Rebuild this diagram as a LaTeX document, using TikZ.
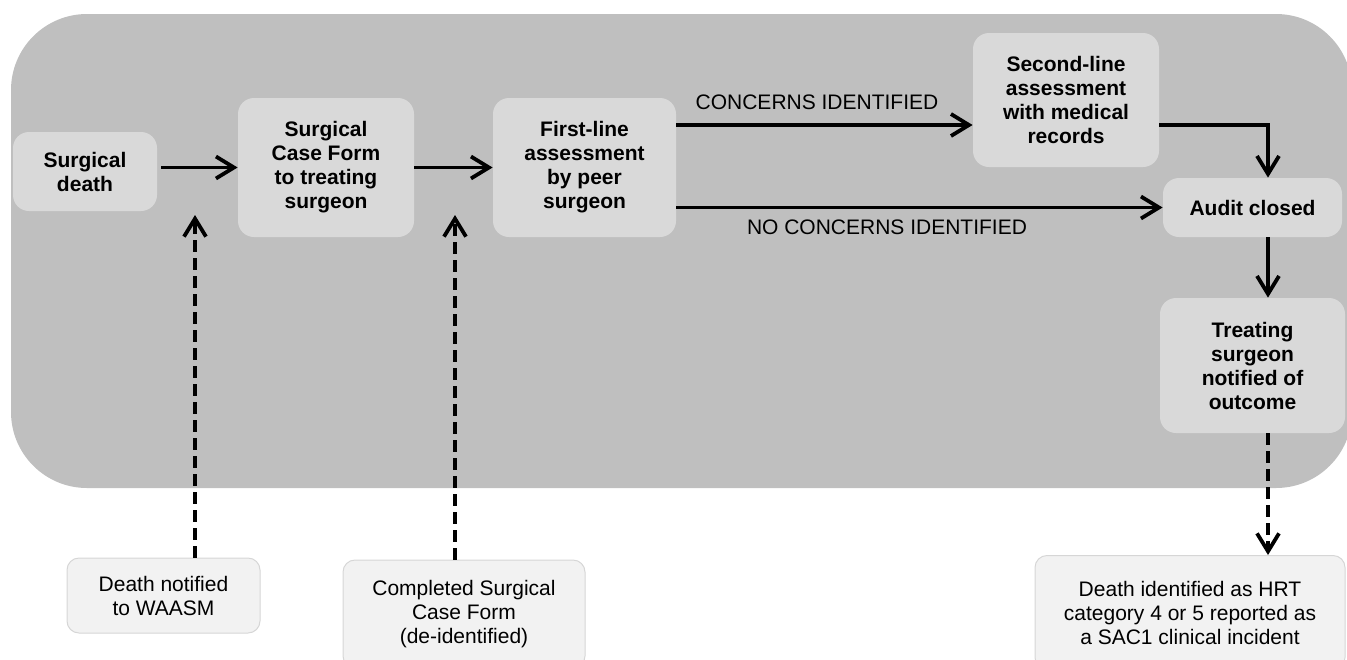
\documentclass[tikz,border=0pt]{standalone}
\usepackage{fontspec}
\setmainfont{Liberation Sans}
\usetikzlibrary{arrows.meta}
\definecolor{panel}{HTML}{BFBFBF}
\definecolor{stagefill}{HTML}{D9D9D9}
\definecolor{notefill}{HTML}{F2F2F2}
\definecolor{noteline}{HTML}{D6D6D6}
\tikzset{
  stage/.style={fill=stagefill, rounded corners=8pt, align=center, inner sep=0pt,
    font=\bfseries\fontsize{10.5}{12}\selectfont},
  note/.style={fill=notefill, draw=noteline, line width=0.5pt, rounded corners=6pt,
    align=center, inner sep=0pt, font=\fontsize{10.5}{12}\selectfont},
  tag/.style={inner sep=0pt, font=\fontsize{10.5}{12}\selectfont},
  flow/.style={line width=1.9pt, -{Straight Barb[length=9pt,width=11pt]}},
  feed/.style={flow, dash pattern=on 6pt off 3pt},
}
\begin{document}
\begin{tikzpicture}[x=0.5pt,y=-0.5pt]
\useasboundingbox (0,0) rectangle (1347,659);
\fill[panel, rounded corners=38pt] (11,14) rectangle (1352,488);

% main stages
\node[stage, minimum width=72pt, minimum height=39.5pt] (death) at (85,171.5) {Surgical\\death};
\node[stage, minimum width=88pt, minimum height=69.5pt] (form) at (326,167.5) {Surgical\\Case Form\\to treating\\surgeon};
\node[stage, minimum width=91.5pt, minimum height=69.5pt] (first) at (584.5,167.5) {First-line\\assessment\\by peer\\surgeon};
\node[stage, minimum width=93pt, minimum height=67pt] (second) at (1066,100) {Second-line\\assessment\\with medical\\records};
\node[stage, minimum width=89.5pt, minimum height=29.5pt] (audit) at (1252.5,207.5) {Audit closed};
\node[stage, minimum width=92.5pt, minimum height=67.5pt] (treat) at (1252.5,365.5) {Treating\\surgeon\\notified of\\outcome};

% outside notes
\node[note, minimum width=96.5pt, minimum height=37.5pt] (waasm) at (163.5,595.5) {Death notified\\to WAASM};
\node[note, minimum width=121pt, minimum height=54pt] (done) at (464,614) {Completed Surgical\\Case Form\\(de-identified)};
\node[note, minimum width=155pt, minimum height=57pt] (hrt) at (1190,612.5) {Death identified as HRT\\category 4 or 5 reported as\\a SAC1 clinical incident};

\node[tag] (concerns) at (817,102) {CONCERNS IDENTIFIED};
\node[tag] (noconcerns) at (887,227) {NO CONCERNS IDENTIFIED};

\coordinate (bend) at (1268,125);
\coordinate (in1) at (195,215);
\coordinate (in2) at (455,215);

\draw[flow, shorten <=2pt] (death.east |- form) -- (form.west);
\draw[flow] (form) -- (first);
\draw[flow] (first.east |- bend) -- (second.west |- bend);
\draw[flow] (first.east |- audit) -- (audit.west);
\draw[flow] (second.east |- bend) -- (bend) -- (audit.north -| bend);
\draw[flow] (audit.south -| bend) -- (treat.north -| bend);
\draw[feed] (treat.south -| bend) -- (hrt.north -| bend);
\draw[feed] (waasm.north -| in1) -- (in1);
\draw[feed] (done.north -| in2) -- (in2);
\end{tikzpicture}
\end{document}
